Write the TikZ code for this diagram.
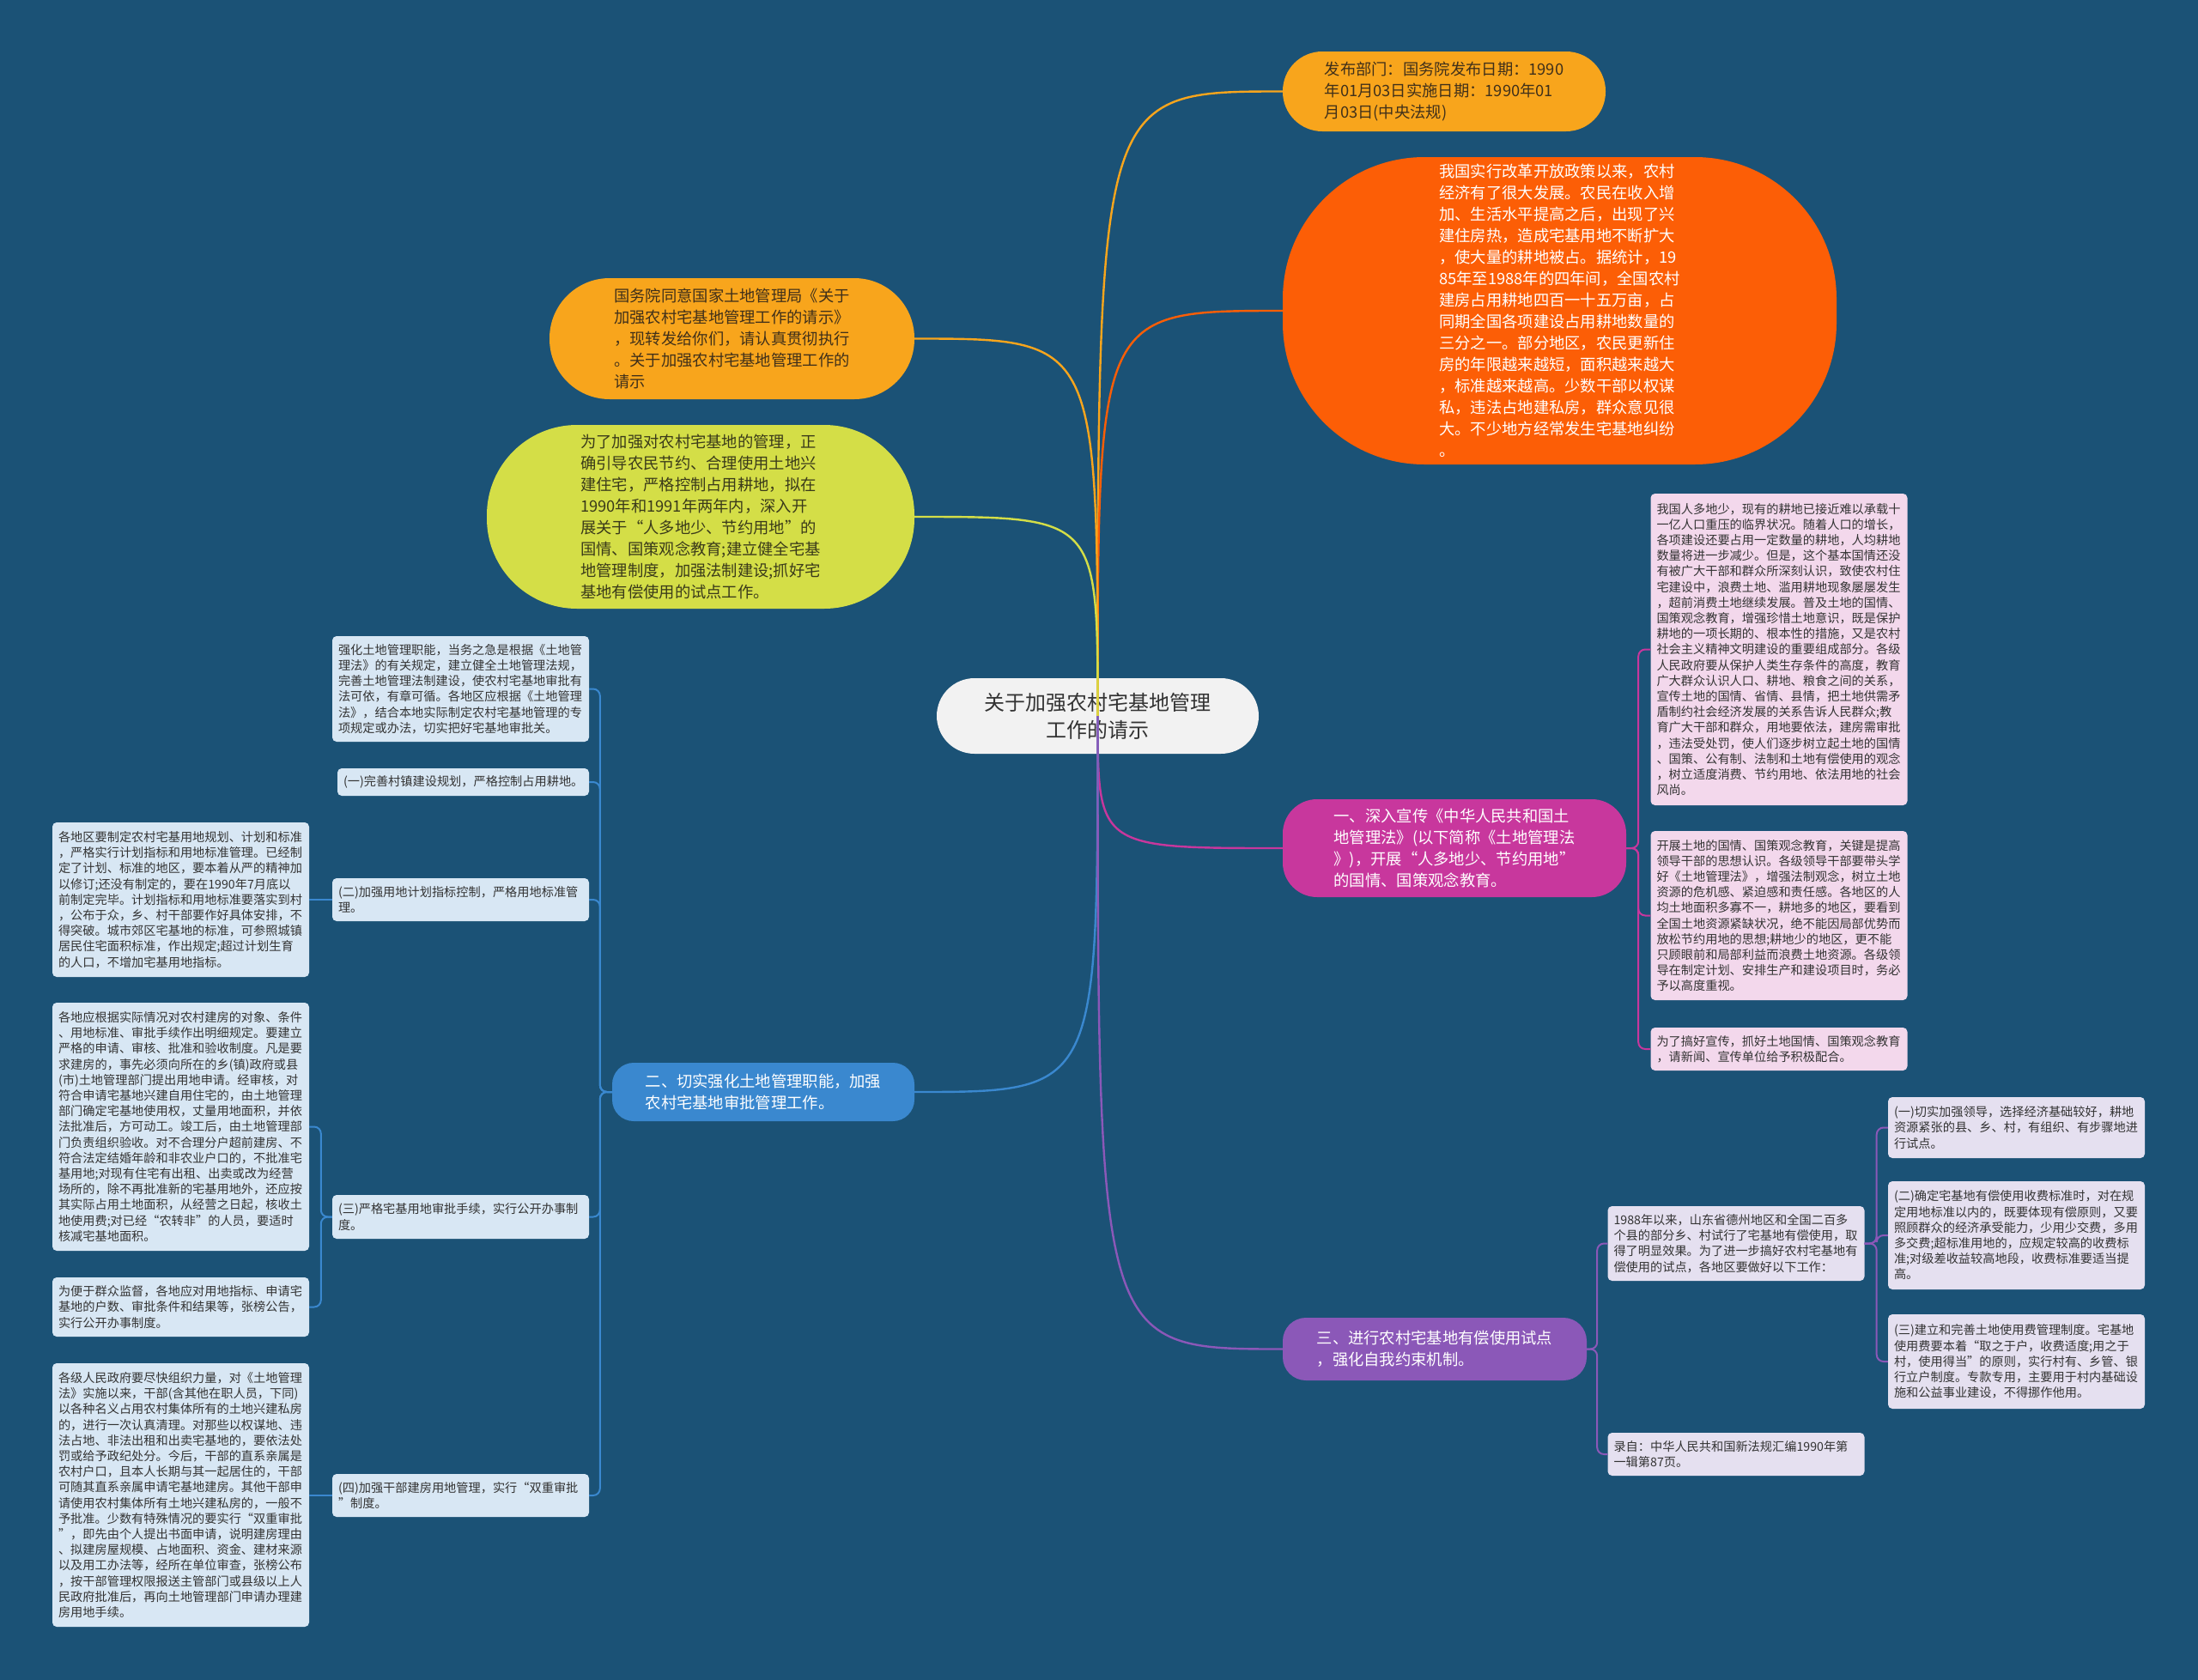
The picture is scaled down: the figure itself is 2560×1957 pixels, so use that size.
\documentclass[tikz,border=0pt]{standalone}
\usepackage{fontspec}
\setmainfont{Noto Sans CJK SC}
\definecolor{bgc}{HTML}{1B5276}
\definecolor{corange}{HTML}{F8A51C}
\definecolor{cred}{HTML}{FC5E06}
\definecolor{cyg}{HTML}{D4DE47}
\definecolor{cmag}{HTML}{C8379D}
\definecolor{cblue}{HTML}{3A88CF}
\definecolor{cpurp}{HTML}{8B58B8}
\definecolor{cnode}{HTML}{F2F2F2}
\definecolor{leafblue}{HTML}{D8E7F4}
\definecolor{leafpink}{HTML}{F3D8EC}
\definecolor{leafpurple}{HTML}{E5E0F0}
\definecolor{txt}{HTML}{333333}
\definecolor{browntxt}{HTML}{40301A}
\definecolor{olivetxt}{HTML}{3A3A1A}
\begin{document}
\begin{tikzpicture}[x=1pt,y=-1pt,
  bigtext/.style={align=left, inner sep=0pt, font=\fontsize{18.3}{25}\selectfont},
  leaf/.style={align=left, inner xsep=7pt, inner ysep=3pt, text width=285pt, rounded corners=5pt, font=\fontsize{14.2}{18.2}\selectfont, text=txt},
  leafL/.style={leaf, fill=leafblue},
  leafR/.style={leaf, fill=leafpink},
  leafP/.style={leaf, fill=leafpurple},
  conn/.style={line width=2.4pt},
  sub/.style={line width=2pt, rounded corners=8pt}]
\useasboundingbox (0,0) rectangle (2560,1957);
\fill[bgc] (0,0) rectangle (2560,1957);

% central node
\node[fill=cnode, text=txt, align=center, font=\fontsize{24}{32}\selectfont, inner sep=0pt,
  minimum width=375pt, minimum height=88pt, rounded corners=44pt] (c) at (1278.5,834)
  {关于加强农村宅基地管理\\工作的请示};

% top right
\node[bigtext, fill=corange, text=browntxt, minimum width=376pt, minimum height=93pt, rounded corners=46pt] (t1) at (1682,106.5)
  {发布部门：国务院发布日期：1990\\年01月03日实施日期：1990年01\\月03日(中央法规)};

\node[bigtext, fill=cred, text=white, minimum width=645pt, minimum height=358pt, rounded corners=165pt] (t2) at (1816.5,362)
  {我国实行改革开放政策以来，农村\\经济有了很大发展。农民在收入增\\加、生活水平提高之后，出现了兴\\建住房热，造成宅基用地不断扩大\\，使大量的耕地被占。据统计，19\\85年至1988年的四年间，全国农村\\建房占用耕地四百一十五万亩，占\\同期全国各项建设占用耕地数量的\\三分之一。部分地区，农民更新住\\房的年限越来越短，面积越来越大\\，标准越来越高。少数干部以权谋\\私，违法占地建私房，群众意见很\\大。不少地方经常发生宅基地纠纷\\。};

% top left
\node[bigtext, fill=corange, text=browntxt, minimum width=425pt, minimum height=141pt, rounded corners=70pt] (t3) at (852.5,394.5)
  {国务院同意国家土地管理局《关于\\加强农村宅基地管理工作的请示》\\，现转发给你们，请认真贯彻执行\\。关于加强农村宅基地管理工作的\\请示};

\node[bigtext, fill=cyg, text=olivetxt, minimum width=498pt, minimum height=214pt, rounded corners=105pt] (t4) at (816,602)
  {为了加强对农村宅基地的管理，正\\确引导农民节约、合理使用土地兴\\建住宅，严格控制占用耕地，拟在\\1990年和1991年两年内，深入开\\展关于“人多地少、节约用地”的\\国情、国策观念教育;建立健全宅基\\地管理制度，加强法制建设;抓好宅\\基地有偿使用的试点工作。};

% branches
\node[bigtext, fill=cmag, text=white, minimum width=400pt, minimum height=114pt, rounded corners=40pt] (b1) at (1694,988)
  {一、深入宣传《中华人民共和国土\\地管理法》(以下简称《土地管理法\\》)，开展“人多地少、节约用地”\\的国情、国策观念教育。};

\node[bigtext, fill=cblue, text=white, minimum width=352pt, minimum height=68pt, rounded corners=25pt] (b2) at (889,1272)
  {二、切实强化土地管理职能，加强\\农村宅基地审批管理工作。};

\node[bigtext, fill=cpurp, text=white, minimum width=354pt, minimum height=73pt, rounded corners=27pt] (b3) at (1671,1571.5)
  {三、进行农村宅基地有偿使用试点\\，强化自我约束机制。};

% branch 1 leaves
\node[leafR, minimum height=363pt] (r1) at (2072,756.5)
  {我国人多地少，现有的耕地已接近难以承载十\\一亿人口重压的临界状况。随着人口的增长，\\各项建设还要占用一定数量的耕地，人均耕地\\数量将进一步减少。但是，这个基本国情还没\\有被广大干部和群众所深刻认识，致使农村住\\宅建设中，浪费土地、滥用耕地现象屡屡发生\\，超前消费土地继续发展。普及土地的国情、\\国策观念教育，增强珍惜土地意识，既是保护\\耕地的一项长期的、根本性的措施，又是农村\\社会主义精神文明建设的重要组成部分。各级\\人民政府要从保护人类生存条件的高度，教育\\广大群众认识人口、耕地、粮食之间的关系，\\宣传土地的国情、省情、县情，把土地供需矛\\盾制约社会经济发展的关系告诉人民群众;教\\育广大干部和群众，用地要依法，建房需审批\\，违法受处罚，使人们逐步树立起土地的国情\\、国策、公有制、法制和土地有偿使用的观念\\，树立适度消费、节约用地、依法用地的社会\\风尚。};

\node[leafR, minimum height=197pt] (r2) at (2072,1066.5)
  {开展土地的国情、国策观念教育，关键是提高\\领导干部的思想认识。各级领导干部要带头学\\好《土地管理法》，增强法制观念，树立土地\\资源的危机感、紧迫感和责任感。各地区的人\\均土地面积多寡不一，耕地多的地区，要看到\\全国土地资源紧缺状况，绝不能因局部优势而\\放松节约用地的思想;耕地少的地区，更不能\\只顾眼前和局部利益而浪费土地资源。各级领\\导在制定计划、安排生产和建设项目时，务必\\予以高度重视。};

\node[leafR, minimum height=50pt] (r3) at (2072,1222)
  {为了搞好宣传，抓好土地国情、国策观念教育\\，请新闻、宣传单位给予积极配合。};

% branch 2 leaves
\node[leafL, minimum height=123pt] (l1) at (536.5,802.5)
  {强化土地管理职能，当务之急是根据《土地管\\理法》的有关规定，建立健全土地管理法规，\\完善土地管理法制建设，使农村宅基地审批有\\法可依，有章可循。各地区应根据《土地管理\\法》，结合本地实际制定农村宅基地管理的专\\项规定或办法，切实把好宅基地审批关。};

\node[leafL, text width=279pt, minimum height=32pt] (l2) at (539.5,911)
  {(一)完善村镇建设规划，严格控制占用耕地。};

\node[leafL, minimum height=50pt] (l3) at (536.5,1048)
  {(二)加强用地计划指标控制，严格用地标准管\\理。};

\node[leafL, minimum height=180pt] (l3c) at (210.5,1048)
  {各地区要制定农村宅基用地规划、计划和标准\\，严格实行计划指标和用地标准管理。已经制\\定了计划、标准的地区，要本着从严的精神加\\以修订;还没有制定的，要在1990年7月底以\\前制定完毕。计划指标和用地标准要落实到村\\，公布于众，乡、村干部要作好具体安排，不\\得突破。城市郊区宅基地的标准，可参照城镇\\居民住宅面积标准，作出规定;超过计划生育\\的人口，不增加宅基用地指标。};

\node[leafL, minimum height=51pt] (l4) at (536.5,1417.5)
  {(三)严格宅基用地审批手续，实行公开办事制\\度。};

\node[leafL, minimum height=289pt] (l4c1) at (210.5,1312.5)
  {各地应根据实际情况对农村建房的对象、条件\\、用地标准、审批手续作出明细规定。要建立\\严格的申请、审核、批准和验收制度。凡是要\\求建房的，事先必须向所在的乡(镇)政府或县\\(市)土地管理部门提出用地申请。经审核，对\\符合申请宅基地兴建自用住宅的，由土地管理\\部门确定宅基地使用权，丈量用地面积，并依\\法批准后，方可动工。竣工后，由土地管理部\\门负责组织验收。对不合理分户超前建房、不\\符合法定结婚年龄和非农业户口的，不批准宅\\基用地;对现有住宅有出租、出卖或改为经营\\场所的，除不再批准新的宅基用地外，还应按\\其实际占用土地面积，从经营之日起，核收土\\地使用费;对已经“农转非”的人员，要适时\\核减宅基地面积。};

\node[leafL, minimum height=69pt] (l4c2) at (210.5,1522.5)
  {为便于群众监督，各地应对用地指标、申请宅\\基地的户数、审批条件和结果等，张榜公告，\\实行公开办事制度。};

\node[leafL, minimum height=50pt] (l5) at (536.5,1742)
  {(四)加强干部建房用地管理，实行“双重审批\\”制度。};

\node[leafL, minimum height=307pt] (l5c) at (210.5,1741.5)
  {各级人民政府要尽快组织力量，对《土地管理\\法》实施以来，干部(含其他在职人员，下同)\\以各种名义占用农村集体所有的土地兴建私房\\的，进行一次认真清理。对那些以权谋地、违\\法占地、非法出租和出卖宅基地的，要依法处\\罚或给予政纪处分。今后，干部的直系亲属是\\农村户口，且本人长期与其一起居住的，干部\\可随其直系亲属申请宅基地建房。其他干部申\\请使用农村集体所有土地兴建私房的，一般不\\予批准。少数有特殊情况的要实行“双重审批\\”，即先由个人提出书面申请，说明建房理由\\、拟建房屋规模、占地面积、资金、建材来源\\以及用工办法等，经所在单位审查，张榜公布\\，按干部管理权限报送主管部门或县级以上人\\民政府批准后，再向土地管理部门申请办理建\\房用地手续。};

% branch 3 leaves
\node[leafP, minimum height=87pt] (p0) at (2022,1448.5)
  {1988年以来，山东省德州地区和全国二百多\\个县的部分乡、村试行了宅基地有偿使用，取\\得了明显效果。为了进一步搞好农村宅基地有\\偿使用的试点，各地区要做好以下工作：};

\node[leafP, minimum height=50pt] (p0c) at (2022,1694)
  {录自：中华人民共和国新法规汇编1990年第\\一辑第87页。};

\node[leafP, minimum height=71pt] (p1) at (2348.5,1313.5)
  {(一)切实加强领导，选择经济基础较好，耕地\\资源紧张的县、乡、村，有组织、有步骤地进\\行试点。};

\node[leafP, minimum height=126pt] (p2) at (2348.5,1439)
  {(二)确定宅基地有偿使用收费标准时，对在规\\定用地标准以内的，既要体现有偿原则，又要\\照顾群众的经济承受能力，少用少交费，多用\\多交费;超标准用地的，应规定较高的收费标\\准;对级差收益较高地段，收费标准要适当提\\高。};

\node[leafP, minimum height=110pt] (p3) at (2348.5,1586)
  {(三)建立和完善土地使用费管理制度。宅基地\\使用费要本着“取之于户，收费适度;用之于\\村，使用得当”的原则，实行村有、乡管、银\\行立户制度。专款专用，主要用于村内基础设\\施和公益事业建设，不得挪作他用。};

% main connectors
\draw[conn, draw=corange] (c.center) .. controls (c.center |- t1.west) .. (t1.west);
\draw[conn, draw=cred] (c.center) .. controls (c.center |- t2.west) .. (t2.west);
\draw[conn, draw=corange] (c.center) .. controls (c.center |- t3.east) .. (t3.east);
\draw[conn, draw=cyg] (c.center) .. controls (c.center |- t4.east) .. (t4.east);
\draw[conn, draw=cmag] (c.center) .. controls (c.center |- b1.west) .. (b1.west);
\draw[conn, draw=cblue] (c.center) .. controls (c.center |- b2.east) .. (b2.east);
\draw[conn, draw=cpurp] (c.center) .. controls (c.center |- b3.west) .. (b3.west);

% branch 1 sub connectors
\foreach \n in {r1,r2,r3}
  \draw[sub, draw=cmag] (b1.east) -- ++(14,0) |- (\n.west);
% branch 2 sub connectors
\foreach \n in {l1,l2,l3,l4,l5}
  \draw[sub, draw=cblue] (b2.west) -- ++(-14,0) |- (\n.east);
\draw[sub, draw=cblue] (l3.west) -- (l3.west -| l3c.east);
\foreach \n in {l4c1,l4c2}
  \draw[sub, draw=cblue] (l4.west) -- ++(-13,0) |- (\n.east);
\draw[sub, draw=cblue] (l5.west) -- (l5.west -| l5c.east);
% branch 3 sub connectors
\foreach \n in {p0,p0c}
  \draw[sub, draw=cpurp] (b3.east) -- ++(12,0) |- (\n.west);
\foreach \n in {p1,p2,p3}
  \draw[sub, draw=cpurp] (p0.east) -- ++(14,0) |- (\n.west);
\end{tikzpicture}
\end{document}
